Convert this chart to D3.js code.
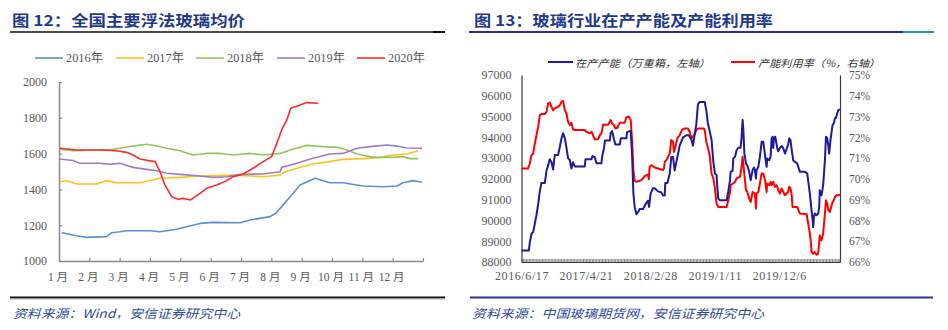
<!DOCTYPE html>
<html><head><meta charset="utf-8">
<script src="https://cdn.jsdelivr.net/npm/d3@7"></script>
<style>
body{margin:0;background:#fff;}
svg{display:block;}
</style></head><body>
<svg id="c" width="948" height="330"></svg>
<script>
// ---------- data: left chart (price, 元/吨), x = month position 0..12 ----------
const monthLabels = ["1 月","2 月","3 月","4 月","5 月","6 月","7 月","8 月","9 月","10 月","11 月","12 月"];
const priceTicks = [1000,1200,1400,1600,1800,2000];
const yearNames = ["2016年","2017年","2018年","2019年","2020年"];
const price2016 = [[0.09,1158],[0.58,1141],[0.91,1132],[1.57,1136],[1.74,1158],[2.01,1163],[2.23,1169],[3.0,1169],[3.33,1163],[3.88,1177],[4.21,1191],[4.65,1210],[5.08,1216],[5.97,1214],[6.3,1229],[6.96,1248],[7.15,1268],[7.29,1294],[7.62,1359],[7.95,1425],[8.44,1462],[8.93,1437],[9.36,1437],[10.02,1419],[10.68,1415],[11.14,1419],[11.34,1437],[11.67,1449],[11.97,1440]];
const price2017 = [[0.03,1443],[0.25,1448],[0.58,1430],[1.24,1430],[1.57,1449],[1.9,1437],[2.67,1437],[2.89,1446],[3.33,1462],[3.99,1467],[4.65,1475],[5.74,1480],[6.73,1471],[7.29,1480],[7.45,1499],[7.84,1518],[8.37,1542],[8.93,1555],[9.36,1568],[10.02,1572],[10.58,1579],[11.01,1592],[11.47,1598],[11.84,1616]];
const price2018 = [[0.03,1624],[0.46,1616],[1.35,1620],[1.78,1624],[2.01,1630],[2.44,1642],[2.89,1652],[3.22,1642],[3.55,1630],[3.99,1616],[4.42,1592],[4.87,1601],[5.31,1601],[5.74,1592],[6.3,1601],[6.73,1592],[7.29,1601],[7.62,1620],[8.17,1646],[8.7,1639],[9.17,1635],[9.5,1620],[9.83,1598],[10.35,1579],[11.01,1579],[11.34,1583],[11.57,1572],[11.84,1572]];
const price2019 = [[0.03,1570],[0.46,1561],[0.69,1546],[1.35,1546],[1.68,1540],[2.01,1546],[2.44,1523],[2.89,1512],[3.22,1504],[3.55,1490],[3.99,1484],[4.65,1475],[5.08,1467],[5.54,1471],[5.97,1484],[6.73,1486],[7.29,1499],[7.34,1523],[7.84,1546],[8.37,1574],[8.93,1598],[9.36,1601],[9.83,1630],[10.25,1639],[10.81,1648],[11.14,1642],[11.47,1631],[11.97,1630]];
const price2020 = [[0.03,1630],[0.58,1620],[1.35,1620],[1.9,1616],[2.23,1607],[2.44,1592],[2.67,1570],[2.89,1563],[3.17,1555],[3.33,1499],[3.49,1425],[3.72,1359],[3.93,1345],[4.09,1350],[4.34,1341],[4.65,1378],[4.87,1406],[5.2,1425],[5.53,1449],[5.74,1471],[5.97,1480],[6.07,1486],[6.4,1518],[6.73,1555],[7.01,1583],[7.18,1657],[7.34,1732],[7.51,1788],[7.64,1853],[7.95,1872],[8.17,1885],[8.54,1881]];

// ---------- data: right chart, x = weekly category index ----------
const dateLabels = ["2016/6/17","2017/4/21","2018/2/28","2019/1/11","2019/12/6"];
const dateLabelWeeks = [0,44,88,132,176];
const weekCount = 218;
const capTicks = [88000,89000,90000,91000,92000,93000,94000,95000,96000,97000];
const utilTicks = [66,67,68,69,70,71,72,73,74,75];
const seriesNames = ["在产产能（万重箱，左轴）","产能利用率（%，右轴）"];
const capacity = [[0,88550],[5,88550],[5.7,88950],[6.8,89350],[8,89450],[9.1,89850],[10.2,90250],[11.4,90800],[12.5,91400],[13.6,91800],[15.9,91800],[17.1,92400],[18.2,92650],[19.3,92950],[20.5,92800],[21.6,92450],[22.7,93150],[25,93150],[26.2,93550],[27.3,93950],[28.4,94200],[29.6,93950],[30.7,93500],[31.8,93000],[33,92900],[34.1,92500],[35.2,92800],[36.4,92600],[43.2,92600],[43.7,92950],[47.8,92950],[48.5,93100],[50,93050],[51.2,92750],[54.6,92750],[55,93050],[56.4,93500],[57,93850],[60.3,93850],[60.9,94200],[61.9,94300],[63.2,93900],[64.1,93650],[67.1,93650],[67.8,93950],[71.6,93950],[72.1,94250],[73.9,94300],[74.6,94300],[75.5,93200],[76.4,91300],[77.3,90650],[78.5,90300],[79.6,90400],[80.7,90550],[83,90550],[85.3,90850],[86.4,90950],[87.1,90650],[88.2,91300],[89.8,91550],[91,91550],[93.2,91400],[95.5,91350],[96.6,91200],[97.8,91200],[98.2,91800],[99.6,91800],[101.2,92250],[102.3,93050],[103.5,93050],[104.6,92400],[105.7,92800],[106.9,93200],[108,93600],[110.3,94000],[112.6,94100],[114.2,94100],[116,93900],[117.1,93600],[118.2,94100],[119.4,94650],[120.5,95600],[121.7,95700],[125.1,95700],[126.2,95300],[127.3,94650],[128.5,94300],[129.8,93870],[131,92820],[132.1,92260],[133.2,92180],[133.7,91600],[134.4,91050],[135.5,90970],[140.1,90970],[141.2,91380],[142.4,91950],[142.8,92340],[144.2,92400],[144.6,92980],[145.8,93060],[146.9,93380],[148,93500],[149.6,93500],[150.3,94000],[151,94830],[151.5,94350],[152.2,93220],[153.3,92730],[154.2,92650],[155.5,92340],[156.5,91930],[157.8,92420],[158.7,92550],[159.4,92420],[160.1,92020],[160.5,92420],[161.7,92570],[162.8,93060],[164,93790],[165.1,93790],[166.3,93140],[167.4,92580],[167.8,92980],[169.2,92900],[170.1,93060],[170.8,93950],[171.5,94030],[171.9,93490],[172.4,93950],[173.3,94030],[174.6,93490],[175.3,93330],[176.5,93490],[177.6,93580],[178.7,93490],[179.9,93220],[182.1,93650],[182.8,93950],[183.7,93870],[184.4,93460],[185.6,92880],[188.3,92740],[190.1,92340],[193.5,92340],[195.1,92260],[196,91780],[196.9,91300],[197.6,90800],[198.8,90010],[199.2,89680],[199.7,90170],[200.3,90330],[201.5,90250],[202.6,90330],[203.3,90650],[203.7,91450],[204.9,91210],[206,91700],[207.2,92900],[207.9,94030],[208.8,93950],[209.5,93600],[210.1,93220],[211,93870],[212.4,94590],[213.3,94670],[214,94910],[214.7,94940],[216.3,95310],[217.4,95350]];
const utilization = [[0,70.5],[4.5,70.5],[5.7,70.74],[6.8,71.14],[8,71.22],[9.1,71.7],[10.2,72.1],[11.4,72.5],[12.5,73.07],[13.6,73.12],[15.9,73.12],[17.1,73.23],[18.2,73.63],[19.3,73.67],[20.5,73.47],[21.6,73.3],[22.7,73.4],[25,73.47],[26.2,73.55],[27.3,73.71],[28.4,73.76],[29.6,73.3],[30.7,73.15],[31.8,72.75],[33,72.6],[34.1,72.7],[35.2,72.38],[36.4,72.35],[43.2,72.35],[44.3,72.27],[46.6,72.19],[47.8,72.27],[48.9,72.1],[50,71.91],[52.3,71.91],[53.5,72.1],[54.6,72.19],[55.7,72.6],[59.1,72.6],[60.9,72.83],[61.9,72.67],[63.2,72.59],[64.1,72.43],[65.5,72.46],[67.1,72.7],[70.5,72.7],[71.6,72.96],[73.2,73.0],[74.6,72.83],[75.5,71.87],[76.4,70.42],[77.3,69.9],[78.5,69.86],[81.9,69.94],[84.1,70.13],[86.4,70.2],[86.9,69.98],[87.5,70.58],[88.7,70.66],[91,70.55],[93.2,70.5],[96.6,70.42],[97.3,70.5],[97.8,70.82],[98.9,70.9],[101.2,71.22],[102.3,71.87],[103.5,71.79],[104.1,71.3],[105.1,71.54],[106.4,71.95],[108,72.1],[109.6,72.35],[111.4,72.43],[113.7,72.43],[114.8,72.27],[116,71.95],[117.8,72.1],[119.4,72.35],[120.5,72.43],[124.6,72.43],[125.1,72.35],[126.2,71.79],[127.3,71.51],[128.5,71.14],[129.8,70.26],[131,70.02],[132.1,69.54],[133.2,68.81],[134.4,68.65],[140.1,68.65],[141.2,68.97],[142.4,69.37],[142.8,69.7],[144.6,69.78],[145.8,69.86],[146.9,70.02],[149.2,70.1],[150.3,70.58],[151,71.06],[151.9,70.42],[153.3,69.45],[154.2,69.37],[155.5,69.05],[156.5,68.89],[157.8,69.37],[159.4,69.29],[160.1,68.57],[160.5,69.29],[161.7,69.37],[162.8,69.78],[164,70.26],[165.1,70.26],[166.3,69.94],[167.4,69.37],[167.8,69.78],[169.2,69.7],[170.1,69.86],[170.8,69.7],[171.9,69.86],[173.2,69.62],[174.3,69.7],[175.3,69.45],[176.5,69.29],[177.6,69.54],[179.9,69.21],[182.1,69.37],[182.8,69.62],[183.7,69.54],[184.4,69.29],[185.1,68.65],[188.3,68.65],[190.1,68.33],[194.7,68.3],[195.8,67.85],[196.9,67.37],[197.6,66.96],[198.1,66.48],[199.2,66.4],[200.3,66.48],[201.5,66.35],[202.6,66.4],[203.7,67.28],[204.9,67.04],[206,67.37],[207.2,68.33],[207.9,68.97],[208.8,68.81],[209.5,68.49],[210.6,68.41],[212.4,68.89],[213.3,68.97],[214,69.13],[215.1,69.21],[216.3,69.21],[217.4,69.25]];

// ---------- drawing ----------
const svg = d3.select("#c");
const SERIF = "'Liberation Serif','Times New Roman','Noto Sans CJK SC',serif";
const CJK = "'Noto Sans CJK SC','Noto Sans CJK JP',sans-serif";
const TITLE_C = "#1f3a8a";
const SRC_C = "#2f4a9e";

function txt(x, y, s, o) {
  const t = svg.append("text").attr("x", x).attr("y", y).text(s)
    .attr("dominant-baseline", "central")
    .style("font-family", o.family || CJK).style("font-size", o.size + "px")
    .attr("fill", o.fill || "#333");
  if (o.weight) t.style("font-weight", o.weight);
  if (o.italic) t.style("font-style", "italic");
  if (o.len) t.attr("textLength", o.len).attr("lengthAdjust", "spacingAndGlyphs");
  if (o.anchor) t.attr("text-anchor", o.anchor);
  return t;
}

// titles
txt(12, 19.5, "图 12：全国主要浮法玻璃均价", {size: 15, weight: 700, fill: TITLE_C, len: 233});
txt(474, 19.5, "图 13：玻璃行业在产产能及产能利用率", {size: 15, weight: 700, fill: TITLE_C, len: 299});
// title rules
svg.append("rect").attr("x", 10).attr("y", 31).attr("width", 424).attr("height", 2).attr("fill", "#4a4a4a");
svg.append("rect").attr("x", 433).attr("y", 31).attr("width", 12).attr("height", 2).attr("fill", "#111");
svg.append("rect").attr("x", 469).attr("y", 31).attr("width", 434).attr("height", 2).attr("fill", "#2e2f96");
svg.append("rect").attr("x", 903).attr("y", 31).attr("width", 31).attr("height", 2).attr("fill", "#1e8fd8");
// bottom rules
svg.append("rect").attr("x", 10).attr("y", 296.5).attr("width", 435).attr("height", 2).attr("fill", "#111");
svg.append("rect").attr("x", 10).attr("y", 298.5).attr("width", 435).attr("height", 1).attr("fill", "#aaa");
svg.append("rect").attr("x", 470).attr("y", 296.5).attr("width", 463).attr("height", 2).attr("fill", "#2e2f96");
// sources
txt(13, 312, "资料来源：Wind，安信证券研究中心", {size: 12, italic: true, fill: SRC_C, len: 227});
txt(472, 312, "资料来源：中国玻璃期货网，安信证券研究中心", {size: 12, italic: true, fill: SRC_C, len: 292});

// ===== Left chart =====
const xL = d3.scaleLinear().domain([0, 12]).range([59, 423]);
const yL = d3.scaleLinear().domain([1000, 2000]).range([261, 82]);
const yearColors = ["#5b8fd4", "#ffc21a", "#92c55a", "#a07cc5", "#ff2a2a"];
const priceSeries = [price2016, price2017, price2018, price2019, price2020];

const gL = svg.append("g");
const yAxL = gL.append("g").attr("transform", "translate(59,0)")
  .call(d3.axisLeft(yL).tickValues(priceTicks).tickSize(-3).tickSizeOuter(0).tickPadding(12).tickFormat(d3.format("d")));
const xAxL = gL.append("g").attr("transform", "translate(0,261)")
  .call(d3.axisBottom(xL).tickValues(d3.range(0, 13)).tickSize(-3).tickSizeOuter(0).tickPadding(12)
    .tickFormat(i => i < 12 ? monthLabels[i] : ""));
[yAxL, xAxL].forEach(a => {
  a.select(".domain").attr("stroke", "#8a8a8a").attr("stroke-width", 1.5);
  a.selectAll(".tick line").attr("stroke", "#8a8a8a").attr("stroke-width", 1.2);
  a.selectAll("text").attr("fill", "#595959").style("font-family", SERIF).style("font-size", "12px");
});
xAxL.selectAll("text").attr("dx", -1.5).style("font-size", "11.5px");

const lineL = d3.line().x(d => xL(d[0])).y(d => yL(d[1]));
priceSeries.forEach((s, i) => {
  gL.append("path").datum(s).attr("d", lineL).attr("fill", "none")
    .attr("stroke", yearColors[i]).attr("stroke-width", 1.6).attr("stroke-linejoin", "round");
});
// legend
const legX = [35, 116, 196, 277, 357];
yearNames.forEach((n, i) => {
  svg.append("line").attr("x1", legX[i]).attr("x2", legX[i] + 28).attr("y1", 58).attr("y2", 58)
    .attr("stroke", yearColors[i]).attr("stroke-width", 1.6);
  txt(legX[i] + 31, 58, n, {size: 12, family: SERIF, fill: "#595959", len: 37});
});

// ===== Right chart =====
const xR = d3.scaleLinear().domain([0, 217.5]).range([521.5, 840]);
const yR1 = d3.scaleLinear().domain([88000, 97000]).range([262, 75]);
const yR2 = d3.scaleLinear().domain([66, 75]).range([262, 75]);

const gR = svg.append("g");
const axR1 = gR.append("g").attr("transform", "translate(521.5,0)")
  .call(d3.axisLeft(yR1).tickValues(capTicks).tickSize(0).tickPadding(10).tickFormat(d3.format("d")));
const axR2 = gR.append("g").attr("transform", "translate(840,0)")
  .call(d3.axisRight(yR2).tickValues(utilTicks).tickSize(0).tickPadding(9).tickFormat(d => d + "%"));
const axRB = gR.append("g").attr("transform", "translate(0,262)")
  .call(d3.axisBottom(xR).tickValues(d3.range(0, weekCount)).tickSize(-3).tickSizeOuter(0).tickPadding(9)
    .tickFormat(w => { const k = dateLabelWeeks.indexOf(w); return k >= 0 ? dateLabels[k] : ""; }));
[axR1, axR2, axRB].forEach(a => {
  a.select(".domain").attr("stroke", "#3a3a3a").attr("stroke-width", 1.2);
  a.selectAll("text").attr("fill", "#595959").style("font-family", SERIF).style("font-size", "12px");
});
axR2.selectAll("text").style("font-size", "11.5px");
axRB.selectAll(".tick line").attr("stroke", "#555").attr("stroke-width", 0.7);
axRB.selectAll("text").style("letter-spacing", "0.6px");

const lineCap = d3.line().x(d => xR(d[0])).y(d => yR1(d[1]));
const lineUtil = d3.line().x(d => xR(d[0])).y(d => yR2(d[1]));
gR.append("path").datum(utilization).attr("d", lineUtil).attr("fill", "none")
  .attr("stroke", "#ff0000").attr("stroke-width", 2).attr("stroke-linejoin", "round");
gR.append("path").datum(capacity).attr("d", lineCap).attr("fill", "none")
  .attr("stroke", "#1f1a9c").attr("stroke-width", 2).attr("stroke-linejoin", "round");

// legend right
svg.append("line").attr("x1", 548).attr("x2", 573).attr("y1", 62).attr("y2", 62).attr("stroke", "#1f1a9c").attr("stroke-width", 2);
txt(575, 62, seriesNames[0], {size: 10, fill: "#333", italic: true, len: 135});
svg.append("line").attr("x1", 731).attr("x2", 755).attr("y1", 62).attr("y2", 62).attr("stroke", "#ff0000").attr("stroke-width", 2);
txt(758, 62, seriesNames[1], {size: 10, fill: "#333", italic: true, len: 122});
</script>
</body></html>
